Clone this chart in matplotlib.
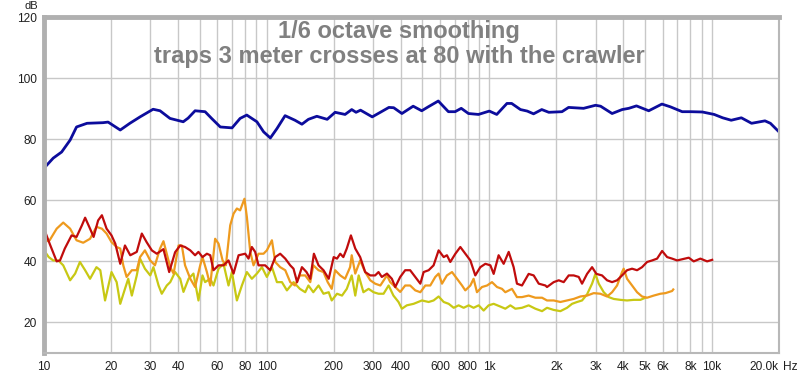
import matplotlib
matplotlib.use("Agg")
import matplotlib.pyplot as plt

plt.rcParams['font.family'] = ['Liberation Sans', 'DejaVu Sans']

# Curvas (frecuencia en Hz, nivel en dB)
azul_f = [10, 11, 12, 13.1, 14, 15.6, 18.4, 19.4, 22, 24.3, 27, 30.9, 33.2, 36.8, 42.2, 44.4, 47.7, 52.9, 56.6, 61.9,
          69.9, 76, 81.4, 90.4, 96.9, 103.9, 111.3, 121, 134, 144, 154, 168, 187, 203, 225, 241, 252, 264, 298, 324,
          354, 372, 405, 455, 497, 532, 590, 655, 702, 748, 806, 894, 1000, 1080, 1200, 1260, 1380, 1480, 1580, 1720,
          1850, 2120, 2270, 2650, 3000, 3160, 3560, 3950, 4230, 4580, 5200, 5960, 6500, 7350, 8020, 9060, 10230, 11170,
          12200, 13550, 15060, 17300, 18300, 20000]
azul_db = [70.5, 73.8, 75.8, 79.7, 84, 85.2, 85.4, 85.6, 83, 85.2, 87.3, 89.8, 89.3, 86.8, 85.7, 86.9, 89.3, 89, 86.8, 84,
           83.7, 86.8, 87.9, 85.7, 82.4, 80.4, 83.5, 87.7, 86.2, 84.9, 86.5, 87.5, 86.5, 88.8, 88.1, 89.7, 88.8, 89.5, 87.3, 88.8,
           90.4, 90.3, 88.4, 90.8, 89.3, 90.6, 92.5, 89, 89, 90.1, 88.4, 88.1, 89.2, 88.1, 91.7, 91.7, 89.7, 89.2, 88.3, 89.7,
           88.8, 89, 90.4, 90.1, 91.1, 90.8, 88.4, 89.7, 90.1, 90.9, 89.3, 91.5, 90.6, 89, 89, 88.9, 88.1, 87,
           86.2, 87, 85.2, 86, 85.2, 82.4]

rojo_f = [10, 10.6, 11.4, 11.8, 12.4, 13.3, 14, 14.8, 15.3, 16.1, 16.7, 17.5, 18.2, 19.1, 20.1, 20.9, 22, 23.1, 24.4, 26.1,
          27.5, 28.9, 30.5, 32.1, 34.4, 36.5, 38.8, 40.9, 43, 45.4, 47.7, 49.4, 51.5, 53.9, 55.8, 57.7, 60.8, 64, 67.4, 71,
          74.8, 80.1, 82.9, 85.8, 88.8, 91.9, 98.5, 103.7, 109.3, 115, 121.2, 127.6, 132, 137, 144, 151, 157, 163, 171, 180,
          190, 200, 207, 214, 221, 229, 239, 250, 263, 277, 292, 307, 318, 329, 347, 365, 378, 398, 419, 441,
          465, 490, 507, 534, 562, 592, 624, 645, 668, 704, 741, 780, 822, 865, 911, 960, 1011, 1046, 1101, 1160,
          1222, 1286, 1331, 1402, 1502, 1582, 1667, 1786, 1816, 1946, 2050, 2158, 2273, 2393, 2521, 2609, 2748, 2894, 3026, 3208,
          3380, 3559, 3748, 3946, 4156, 4376, 4609, 4853, 5112, 5383, 5670, 5971, 6289, 6621, 6974, 7866, 8280, 8872, 9510, 10020]
rojo_db = [50.7, 45.8, 40, 40.3, 44.2, 48.5, 48, 51.8, 54.3, 50.7, 48, 53.4, 55.1, 50.7, 48.5, 45.8, 39.2, 45.2, 42, 43.1,
           49.1, 46.3, 43.6, 42.5, 44, 36.5, 43, 45.2, 44.7, 43.6, 42, 43.1, 41.4, 42.5, 42, 37.1, 38.7, 38.7, 40.3, 36,
           42, 42.5, 40.9, 44.7, 43.1, 38.7, 38.7, 37.1, 41.4, 42.5, 40.9, 38.7, 37.6, 33.2, 38.1, 36.5, 34.3, 42.5, 38.7, 37.1,
           34.3, 41.4, 40.9, 42.5, 41.4, 44.2, 48.5, 44.2, 41.4, 36.5, 35.4, 35.4, 36.5, 34.9, 36, 34.3, 31.6, 34.9, 37.1, 37.1,
           34.9, 32.7, 36.5, 37.1, 38.7, 43.6, 41.4, 42, 39.8, 42.5, 44.7, 42.5, 40.3, 35.4, 38.1, 39.2, 38.7, 35.9, 42, 39.2,
           43.1, 38.1, 32.7, 32.1, 35.9, 35.4, 32.7, 32.1, 31.6, 33.2, 33.8, 33.2, 35.4, 35.4, 34.9, 32.7, 35.9, 38.1, 35.9, 35.4,
           33.8, 33.2, 33.8, 35.4, 37.1, 37.6, 37.1, 38.1, 39.8, 40.3, 40.9, 43.4, 41.4, 40.9, 40.3, 41.2, 40, 40.9, 40, 40.5]

naranja_f = [10, 10.6, 11.4, 12.2, 13.1, 14, 15, 16.1, 17.2, 18.2, 19.1, 20.1, 21.2, 22, 22.7, 23.5, 24.8, 26.1, 27, 28.4,
             30, 31.5, 33.2, 34.4, 36.9, 38.2, 40.2, 41.6, 43, 45.4, 47.7, 50.3, 51.5, 53.9, 55.8, 58.7, 60.8, 63.4, 65.6, 68.6,
             71, 73.5, 76, 79.5, 81.5, 84.4, 87.3, 91.9, 96.8, 100.2, 105.6, 109.3, 115, 121.2, 127.6, 134, 141, 149, 157, 162,
             171, 180, 188, 196, 203, 214, 225, 237, 241, 250, 263, 277, 292, 307, 324, 347, 359, 378, 398, 419,
             441, 465, 490, 516, 543, 572, 592, 613, 645, 680, 716, 754, 780, 822, 850, 880, 927, 977, 1028, 1083,
             1140, 1180, 1264, 1331, 1402, 1502, 1610, 1725, 1816, 1946, 2085, 2234, 2393, 2564, 2748, 2944, 3154, 3380, 3559, 3748,
             3946, 4014, 4156, 4376, 4609, 4853, 5112, 5476, 5868, 6180, 6621, 6700]
naranja_db = [46.3, 46.9, 50.7, 52.7, 50.7, 46.9, 46.1, 47.4, 51.3, 50.7, 49.1, 46.3, 44.7, 44.2, 38.7, 34.9, 37.1, 37.1, 41.4, 43.6,
              40.3, 38.7, 44.2, 46.6, 38.1, 36, 45.2, 45.2, 38.7, 34.3, 31.6, 38.7, 41.4, 36.5, 32.1, 47.4, 45.8, 40.3, 38.7, 51.8,
              55.6, 57.3, 56.7, 60.5, 54.5, 43.1, 38.7, 42.5, 42.5, 43.6, 46.9, 39.8, 38.1, 37.1, 33.2, 32.1, 35.4, 35.4, 33.2, 38.7,
              37.1, 36.5, 33.2, 31, 37.1, 35.4, 34.3, 38.1, 42, 36, 40.3, 36.5, 33.8, 32.7, 32.1, 35.4, 33.2, 31.6, 30, 32.1,
              32.1, 30.5, 29.9, 32.1, 32.1, 34.9, 36, 32.7, 35.4, 36.5, 34.3, 32.1, 30.5, 32.1, 34.3, 29.9, 31.6, 32.1, 33.2, 31.6,
              31, 29.9, 31, 28.3, 28.3, 28.8, 28.1, 28.1, 27.2, 27.2, 26.7, 27.2, 27.7, 28.5, 28.8, 29.6, 29.4, 28.5, 29.9, 32.1,
              36.5, 37.6, 34.3, 32.1, 29.9, 28.5, 28.1, 28.8, 29.4, 29.6, 30.3, 30.8]

amarillo_f = [10, 10.5, 11, 11.6, 12.2, 13.1, 13.8, 14.5, 15.3, 16.1, 17.2, 17.9, 18.8, 20.1, 21.2, 22, 23.1, 23.9, 24.8, 26.1,
              27, 28.4, 30, 31, 32.7, 33.8, 35.6, 36.9, 38.8, 40.9, 42.3, 44.6, 46.9, 49.4, 51.5, 52.9, 55.8, 57.7, 60.8, 64,
              67.4, 69.8, 73.5, 77.4, 81.5, 85.8, 90.4, 95.2, 100.2, 105.6, 111.2, 117.1, 123.3, 132.1, 141, 149, 154, 162, 171, 180,
              190, 196, 207, 218, 229, 241, 250, 259, 272, 287, 302, 318, 335, 353, 371, 391, 405, 426, 457, 498,
              534, 562, 592, 624, 657, 692, 728, 767, 808, 850, 896, 943, 993, 1046, 1121, 1180, 1243, 1309, 1402, 1502,
              1610, 1725, 1816, 1946, 2085, 2234, 2353, 2478, 2609, 2748, 2894, 2995, 3100, 3265, 3438, 3620, 3878, 4156, 4453, 4770,
              5024]
amarillo_db = [43.6, 41.4, 40.3, 40.3, 38.7, 33.8, 36, 39.8, 37.1, 34.3, 38.1, 37.1, 27.2, 36.5, 33.2, 26.1, 31, 34.3, 28.8, 35.4,
               40.9, 37.6, 35.4, 38.1, 32.1, 29.4, 32.1, 33.2, 36.5, 34.3, 30, 34.3, 36, 27.2, 35.4, 33.2, 34.3, 32.1, 37.6, 39.2,
               32.1, 36.5, 27.2, 32.1, 36.5, 34.3, 36, 38.1, 34.9, 38.1, 33.2, 33.2, 30.5, 33.2, 31, 29.9, 32.1, 29.9, 32.1, 29.4,
               29.9, 27.2, 29.4, 28.8, 31, 35.4, 28.8, 35.4, 29.9, 31, 29.9, 29.4, 29.4, 32.1, 28.8, 26.7, 24.5, 25.6, 26.1, 27.2,
               26.7, 27.2, 28.5, 26.7, 26.1, 24.8, 25.6, 24.8, 25.6, 24.8, 25.6, 23.9, 25.6, 26.1, 25.2, 24.5, 25.6, 24.5, 24.8, 25.6,
               24.5, 23.7, 24.8, 24.1, 23.7, 24.8, 26.1, 26.7, 27.2, 29.2, 32.7, 35.9, 32.7, 29.9, 28.3, 27.7, 27.4, 27.2, 27.4, 27.4,
               28.1]

marcas_x = [10, 20, 30, 40, 60, 80, 100, 200, 300, 400, 600, 800, 1000, 2000, 3000, 4000, 5000, 6000, 8000, 10000, 20000]
etiquetas_x = ['10', '20', '30', '40', '60', '80', '100', '200', '300', '400', '600', '800', '1k',
               '2k', '3k', '4k', '5k', '6k', '8k', '10k', '20.0k']
rejilla_x = [10, 20, 30, 40, 50, 60, 70, 80, 90, 100, 200, 300, 400, 500, 600, 700, 800, 900,
             1000, 2000, 3000, 4000, 5000, 6000, 7000, 8000, 9000, 10000]
marcas_y = [20, 40, 60, 80, 100, 120]

fig = plt.figure(figsize=(8, 3.76), dpi=100)
ax = fig.add_axes([44 / 800, 23 / 376, 735 / 800, 336 / 376])

ax.plot(amarillo_f, amarillo_db, color='#c8c814', lw=1.6)
ax.plot(naranja_f, naranja_db, color='#ee9a1e', lw=1.6)
ax.plot(rojo_f, rojo_db, color='#c00c0c', lw=1.6)
ax.plot(azul_f, azul_db, color='#0c0c9c', lw=2.0)

ax.set_xscale('log')
ax.set_xlim(10, 20000)
ax.set_ylim(10, 120)

ax.set_xticks(rejilla_x, minor=True)
ax.set_xticks(marcas_x)
ax.set_xticklabels(etiquetas_x)
ax.set_yticks(marcas_y)
ax.xaxis.set_minor_formatter(plt.NullFormatter())
ax.get_xticklabels()[-1].set_horizontalalignment('right')

ax.grid(True, which='both', axis='x', color='#c8c8c8', lw=1)
ax.grid(True, axis='y', color='#c8c8c8', lw=1)
ax.set_axisbelow(True)
ax.tick_params(which='both', length=0, labelsize=8.6, colors='#202020')
ax.tick_params(axis='x', pad=6)
ax.tick_params(axis='y', pad=5)

for lado in ['left', 'top']:
    ax.spines[lado].set_color('#b0b0b0')
    ax.spines[lado].set_linewidth(3.5)
for lado in ['right', 'bottom']:
    ax.spines[lado].set_color('#b8b8b8')
    ax.spines[lado].set_linewidth(1.5)

# Titulo en gris dentro del grafico
fig.text(399 / 800, 1 - 38 / 376, '1/6 octave smoothing', ha='center', va='baseline',
         fontsize=17, fontweight='bold', color='#808080')
fig.text(399 / 800, 1 - 63 / 376, 'traps 3 meter crosses at 80 with the crawler', ha='center', va='baseline',
         fontsize=17, fontweight='bold', color='#808080')

fig.text(38 / 800, 1 - 9 / 376, 'dB', ha='right', va='baseline', fontsize=8, color='#202020')
ax.text(1.005, -0.025, 'Hz', transform=ax.transAxes, ha='left', va='top', fontsize=8.6, color='#202020')

fig.savefig('out.png', dpi=100)
